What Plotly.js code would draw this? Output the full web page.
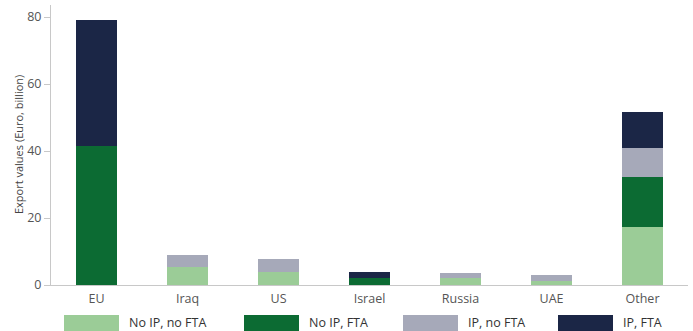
<!DOCTYPE html>
<html><head><meta charset="utf-8">
<script src="https://cdn.plot.ly/plotly-3.0.1.min.js"></script>
<style>body{margin:0;background:#fff}#c{width:693px;height:331px}</style>
</head><body><div id="c"></div>
<script>
const categories = ["EU","Iraq","US","Israel","Russia","UAE","Other"];
const noIpNoFta = [0, 5.4, 4.0, 0, 2.1, 1.1, 17.4];
const noIpFta   = [41.5, 0, 0, 2.2, 0, 0, 14.7];
const ipNoFta   = [0, 3.6, 3.8, 0, 1.5, 1.9, 8.7];
const ipFta     = [37.6, 0, 0, 1.8, 0, 0, 10.8];
const seriesNames = ["No IP, no FTA","No IP, FTA","IP, no FTA","IP, FTA"];
const colors = ["#9BCC97","#0C6B33","#A6A9B9","#1B2646"];
const yTicks = [0,20,40,60,80];

const vals = [noIpNoFta, noIpFta, ipNoFta, ipFta];
const traces = vals.map((v,i)=>({type:'bar', x:categories, y:v, name:seriesNames[i],
  marker:{color:colors[i], line:{width:0}}, showlegend:false}));

const L=51, R=688, W=693;
const pw = R-L;
const swX = [64,244,403,558];
const shapes = [], annotations = [];
swX.forEach((x,i)=>{
  shapes.push({type:'rect', xref:'paper', yref:'paper',
    x0:(x-L)/pw, x1:(x+55-L)/pw, y0:-(315-285)/280, y1:-(333-285)/280,
    fillcolor:colors[i], line:{width:0}});
  annotations.push({xref:'paper', yref:'paper', x:(x+63-L)/pw, y:-(322-285)/280,
    xanchor:'left', yanchor:'middle', showarrow:false, text:seriesNames[i],
    font:{family:'Open Sans, sans-serif', size:12.5, color:'#333'}});
});
annotations.push({xref:'paper', yref:'paper', x:(18-L)/pw, y:0.5, textangle:-90,
  showarrow:false, xanchor:'center', yanchor:'middle', text:'Export values (Euro, billion)',
  font:{family:'Open Sans, sans-serif', size:11, color:'#444'}});

Plotly.newPlot('c', traces, {
  width:693, height:331, barmode:'stack', bargap:0.55,
  margin:{l:L, r:W-R, t:5, b:46},
  paper_bgcolor:'#fff', plot_bgcolor:'#fff',
  font:{family:'Open Sans, sans-serif', size:12, color:'#555'},
  xaxis:{showline:true, linecolor:'#c8c8c8', linewidth:1, ticks:'', ticklabelstandoff:2, tickfont:{size:12.5,color:'#555'}, fixedrange:true},
  yaxis:{range:[0,83.6], tickvals:yTicks, showgrid:false, zeroline:false, showline:true,
    linecolor:'#c8c8c8', ticks:'outside', ticklen:6, tickcolor:'#c8c8c8', tickfont:{size:12.5,color:'#555'}},
  shapes, annotations
}, {displayModeBar:false, staticPlot:true});
</script></body></html>
